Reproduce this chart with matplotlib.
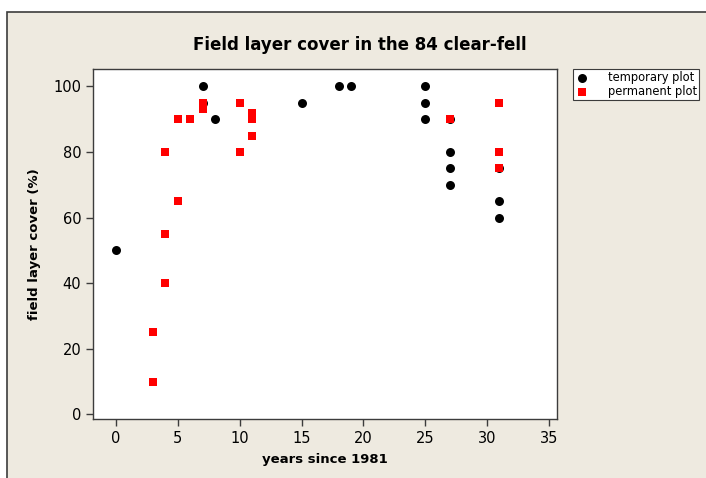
#!/usr/bin/env python3
"""
Field layer cover after clear-felling, temporary vs permanent plots.
"""

import matplotlib
matplotlib.use("Agg")
import matplotlib.pyplot as plt
from matplotlib.patches import Rectangle

# temporary plots
temp_years = [0, 7, 7, 8, 15, 18, 19, 25, 25, 25, 27, 27, 27, 27, 31, 31, 31]
temp_cover = [50, 100, 95, 90, 95, 100, 100, 100, 95, 90, 90, 80, 75, 70, 75, 65, 60]

# permanent plots
perm_years = [3, 3, 4, 4, 4, 5, 5, 6, 7, 7, 10, 10, 11, 11, 11, 27, 31, 31, 31]
perm_cover = [10, 25, 40, 55, 80, 65, 90, 90, 95, 93, 95, 80, 92, 90, 85, 90, 95, 80, 75]

x_ticks = [0, 5, 10, 15, 20, 25, 30, 35]
y_ticks = [0, 20, 40, 60, 80, 100]

W, H = 706, 478
bg = "#eeeae0"
edge = "#3c3c3c"

fig = plt.figure(figsize=(W / 100, H / 100), dpi=100, facecolor="white")

# beige panel with a dark frame, cut off at right and bottom
fig.patches.append(Rectangle((7 / W, -0.05), 1.1, (H - 12) / H + 0.05,
                             transform=fig.transFigure, facecolor=bg,
                             edgecolor=edge, linewidth=1.2, zorder=-5))

ax = fig.add_axes([93 / W, 1 - 419 / H, (557 - 93) / W, (419 - 69) / H])
ax.set_zorder(2)
ax.set_facecolor("white")

ax.scatter(temp_years, temp_cover, s=42, marker="o", color="black",
           linewidths=0, label="temporary plot", zorder=3)
ax.scatter(perm_years, perm_cover, s=40, marker="s", color="#ff0000",
           linewidths=0, label="permanent plot", zorder=4)

ax.set_xlim(-1.86, 35.65)
ax.set_ylim(-1.4, 105.3)
ax.set_xticks(x_ticks)
ax.set_yticks(y_ticks)
ax.tick_params(direction="out", length=5, width=1, color=edge,
               labelsize=10.5, labelcolor="black")
for s in ax.spines.values():
    s.set_color(edge)
    s.set_linewidth(1.0)

ax.set_xlabel("years since 1981", fontsize=9.5, fontweight="bold", labelpad=5)
ax.set_ylabel("field layer cover (%)", fontsize=9.5, fontweight="bold", labelpad=9)

fig.text(360 / W, 1 - 45 / H, "Field layer cover in the 84 clear-fell",
         ha="center", va="center", fontsize=12, fontweight="bold",
         family=["Liberation Sans Narrow", "DejaVu Sans"])

leg = fig.legend(loc="upper left", bbox_to_anchor=(573 / W, 1 - 69 / H),
                 fontsize=8.3, frameon=True, fancybox=False, borderpad=0.2,
                 handletextpad=1.6, labelspacing=0.05, handlelength=1.2,
                 borderaxespad=0)
leg.set_zorder(3)
leg.get_frame().set_edgecolor(edge)
leg.get_frame().set_linewidth(0.8)
leg.get_frame().set_facecolor("white")
leg.get_frame().set_alpha(1)

fig.savefig("out.png", dpi=100, facecolor=fig.get_facecolor())
